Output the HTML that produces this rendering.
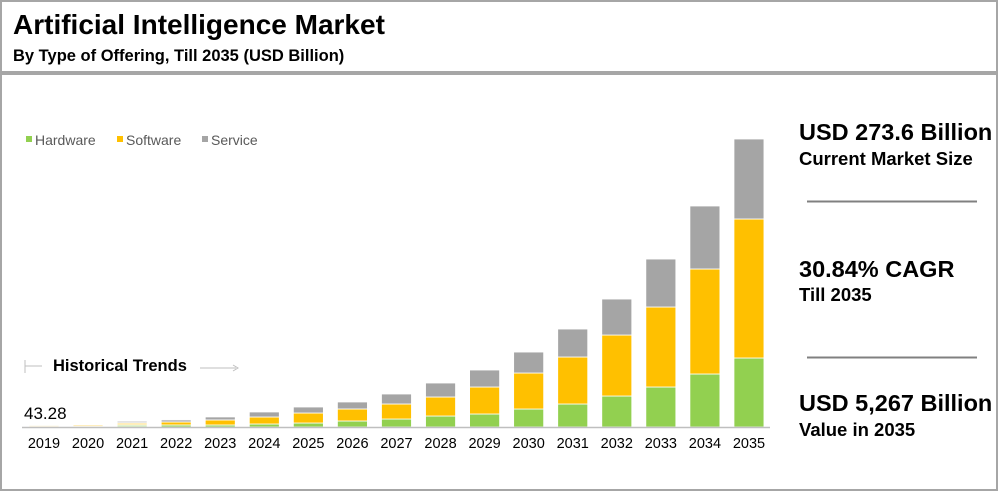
<!DOCTYPE html>
<html><head><meta charset="utf-8"><style>
body{margin:0;width:1000px;height:492px;background:#fff;font-family:"Liberation Sans",Arial,sans-serif;overflow:hidden}
svg{display:block}
</style></head><body>
<svg width="1000" height="492">
<rect x="1" y="1" width="996" height="71" fill="none" stroke="#a6a6a6" stroke-width="2"/>
<rect x="1" y="74" width="996" height="416" fill="none" stroke="#a6a6a6" stroke-width="2"/>
<text x="13" y="34" font-size="28" font-weight="bold" fill="#000">Artificial Intelligence Market</text>
<text x="13" y="61" font-size="16.5" font-weight="bold" fill="#000">By Type of Offering, Till 2035 (USD Billion)</text>
<g>
<rect x="26" y="136" width="6" height="6" fill="#92d050"/>
<text x="35" y="145" font-size="14" fill="#595959">Hardware</text>
<rect x="117" y="136" width="6" height="6" fill="#ffc000"/>
<text x="126" y="145" font-size="14" fill="#595959">Software</text>
<rect x="202" y="136" width="6" height="6" fill="#a5a5a5"/>
<text x="211" y="145" font-size="14" fill="#595959">Service</text>
</g>
<g>
<line x1="25" y1="360" x2="25" y2="373" stroke="#bfbfbf" stroke-width="1"/>
<line x1="25" y1="366" x2="42" y2="366" stroke="#bfbfbf" stroke-width="1"/>
<text x="53" y="371" font-size="16.5" font-weight="bold" fill="#000">Historical Trends</text>
<line x1="200" y1="368" x2="236" y2="368" stroke="#bfbfbf" stroke-width="1"/>
<path d="M233,365 L238,368 L233,371" fill="none" stroke="#bfbfbf" stroke-width="1"/>
</g>
<text x="24" y="419" font-size="17" fill="#000">43.28</text>
<g id="bars"></g>
<line x1="22" y1="427.5" x2="770" y2="427.5" stroke="#bfbfbf" stroke-width="1.5"/>
<g id="xlabels"></g>
<g>
<text x="799" y="140" font-size="23.5" font-weight="bold" fill="#000">USD 273.6 Billion</text>
<text x="799" y="165" font-size="18.5" font-weight="bold" fill="#000">Current Market Size</text>
<line x1="807" y1="201.5" x2="977" y2="201.5" stroke="#808080" stroke-width="2"/>
<text x="799" y="277" font-size="23.5" font-weight="bold" fill="#000">30.84% CAGR</text>
<text x="799" y="301" font-size="18.5" font-weight="bold" fill="#000">Till 2035</text>
<line x1="807" y1="357.5" x2="977" y2="357.5" stroke="#808080" stroke-width="2"/>
<text x="799" y="411" font-size="23.5" font-weight="bold" fill="#000">USD 5,267 Billion</text>
<text x="799" y="436" font-size="18.5" font-weight="bold" fill="#000">Value in 2035</text>
</g>
</svg>
<script>
const years = ["2019","2020","2021","2022","2023","2024","2025","2026","2027","2028","2029","2030","2031","2032","2033","2034","2035"];
const hardware = [8,9,37,37,37,55,73,110,146,201,238,329,421,567,732,970,1263];
const software = [20,27,37,55,92,128,183,220,275,348,494,659,860,1116,1464,1922,2544];
const service = [15,0,37,37,55,92,110,128,183,256,311,384,512,659,878,1153,1464];
const NS="http://www.w3.org/2000/svg";
const baseY=427, pxPer=288/5271;
function xc(i){return 44+i*44.06;}
function yh(v){return v*pxPer;}
const bars=document.getElementById('bars'), xl=document.getElementById('xlabels');
const series=[[hardware,'#92d050','hardware'],[software,'#ffc000','software'],[service,'#a5a5a5','service']];
years.forEach((yr,i)=>{
  let top=baseY;
  series.forEach(([arr,col,nm])=>{
    const h=yh(arr[i]);
    if(h<=0) return;
    const r=document.createElementNS(NS,'rect');
    r.setAttribute('x',xc(i)-15);r.setAttribute('width',30);
    r.setAttribute('y',top-h);r.setAttribute('height',h);
    r.setAttribute('fill',col);r.setAttribute('stroke','#fff');r.setAttribute('stroke-width','0.8');
    if(i<3) r.setAttribute('opacity','0.45');
    
    
    bars.appendChild(r);
    top-=h;
  });
  const t=document.createElementNS(NS,'text');
  t.setAttribute('x',xc(i));t.setAttribute('y',448);t.setAttribute('text-anchor','middle');
  t.setAttribute('font-size','14.5');t.setAttribute('fill','#000');t.textContent=yr;
  
  
  xl.appendChild(t);
});
</script>
</body></html>
